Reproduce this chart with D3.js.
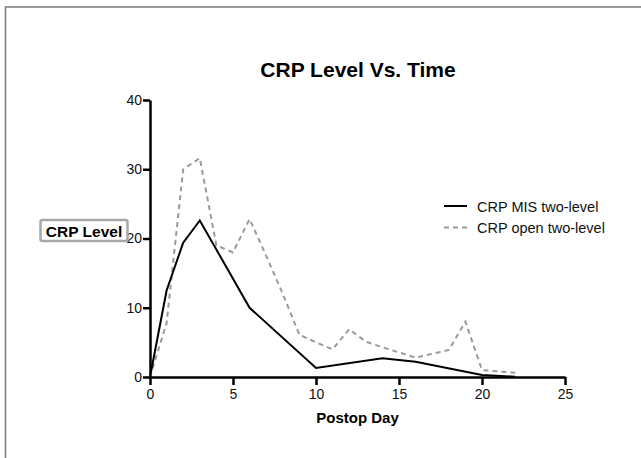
<!DOCTYPE html>
<html>
  <head>
    <meta charset="utf-8" />
    <script src="https://d3js.org/d3.v7.min.js"></script>
    <style>
      body { margin: 0; background: #fff; }
      text { font-family: "Liberation Sans", Arial, sans-serif; }
    </style>
  </head>
  <body>
    <svg id="chart"></svg>
    <script>
      // Data
      var misDays = [0, 1, 2, 3, 6, 10, 14, 16, 20, 22];
      var misCrp = [0, 12.5, 19.4, 22.6, 10, 1.3, 2.7, 2.2, 0.3, 0.05];
      var openDays = [0, 1, 2, 3, 4, 5, 6, 7, 8, 9, 10, 11, 12, 13, 14, 16, 18, 19, 20, 22];
      var openCrp = [0, 7.8, 30, 31.6, 19, 18, 22.8, 17.5, 12, 6.1, 5, 4, 6.9, 5.1, 4.3, 2.8, 3.9, 8, 1, 0.6];
      var seriesNames = ["CRP MIS two-level", "CRP open two-level"];
      var xTicks = [0, 5, 10, 15, 20, 25];
      var yTicks = [0, 10, 20, 30, 40];

      var width = 641;
      var height = 458;

      var svg = d3.select("#chart").attr("width", width).attr("height", height);

      // frame of the original picture (top and left edge only)
      svg.append("path")
        .attr("d", "M5.5,458 L5.5,7 L641,7")
        .attr("fill", "none")
        .attr("stroke", "#7a7a7a")
        .attr("stroke-width", 1.5);

      // scales
      var x = d3.scaleLinear().domain([0, 25]).range([150, 565]);
      var y = d3.scaleLinear().domain([0, 40]).range([377, 100]);

      // title
      svg.append("text")
        .attr("x", 358)
        .attr("y", 77)
        .attr("text-anchor", "middle")
        .style("font-size", "21px")
        .style("font-weight", "bold")
        .text("CRP Level Vs. Time");

      // x axis
      var xAxis = svg.append("g")
        .attr("transform", "translate(0," + y(0) + ")")
        .call(d3.axisBottom(x).tickValues(xTicks).tickSize(8).tickPadding(4).tickSizeOuter(0));

      // y axis
      var yAxis = svg.append("g")
        .attr("transform", "translate(" + x(0) + ",0)")
        .call(d3.axisLeft(y).tickValues(yTicks).tickSize(7).tickPadding(1).tickSizeOuter(0));

      [xAxis, yAxis].forEach(function (g) {
        g.attr("font-size", 14).attr("font-family", "'Liberation Sans', Arial, sans-serif");
        g.select(".domain").attr("stroke", "#000").attr("stroke-width", 2.5);
        g.selectAll(".tick line").attr("stroke", "#000").attr("stroke-width", 2.5);
        g.selectAll(".tick text")
          .attr("fill", "#111")
          .style("font-size", "14px");
      });

      // x axis title
      svg.append("text")
        .attr("x", x(12.5))
        .attr("y", 423)
        .attr("text-anchor", "middle")
        .style("font-size", "15px")
        .style("font-weight", "bold")
        .text("Postop Day");

      // y axis title in its little box
      svg.append("rect")
        .attr("x", 40.5)
        .attr("y", 220)
        .attr("width", 87)
        .attr("height", 21)
        .attr("rx", 2)
        .attr("fill", "#fff")
        .attr("stroke", "#a8a8a8")
        .attr("stroke-width", 2.5);

      svg.append("text")
        .attr("x", 84)
        .attr("y", 237)
        .attr("text-anchor", "middle")
        .style("font-size", "15.5px")
        .style("font-weight", "bold")
        .text("CRP Level");

      // lines
      var line = d3.line()
        .x(function (d) { return x(d[0]); })
        .y(function (d) { return y(d[1]); });

      var openData = d3.zip(openDays, openCrp);
      var misData = d3.zip(misDays, misCrp);

      svg.append("path")
        .datum(openData)
        .attr("d", line)
        .attr("fill", "none")
        .attr("stroke", "#9a9a9a")
        .attr("stroke-width", 2)
        .attr("stroke-dasharray", "5,4");

      svg.append("path")
        .datum(misData)
        .attr("d", line)
        .attr("fill", "none")
        .attr("stroke", "#000")
        .attr("stroke-width", 2);

      // legend
      var legend = svg.append("g");
      var legendStyles = [
        { stroke: "#000", dash: null },
        { stroke: "#9a9a9a", dash: "5,4" }
      ];
      seriesNames.forEach(function (name, i) {
        var ly = 206 + i * 21.5;
        legend.append("line")
          .attr("x1", 444)
          .attr("x2", 467)
          .attr("y1", ly)
          .attr("y2", ly)
          .attr("stroke", legendStyles[i].stroke)
          .attr("stroke-width", 2)
          .attr("stroke-dasharray", legendStyles[i].dash);
        legend.append("text")
          .attr("x", 477)
          .attr("y", ly + 5.5)
          .style("font-size", "14.5px")
          .attr("fill", "#111")
          .text(name);
      });
    </script>
  </body>
</html>
